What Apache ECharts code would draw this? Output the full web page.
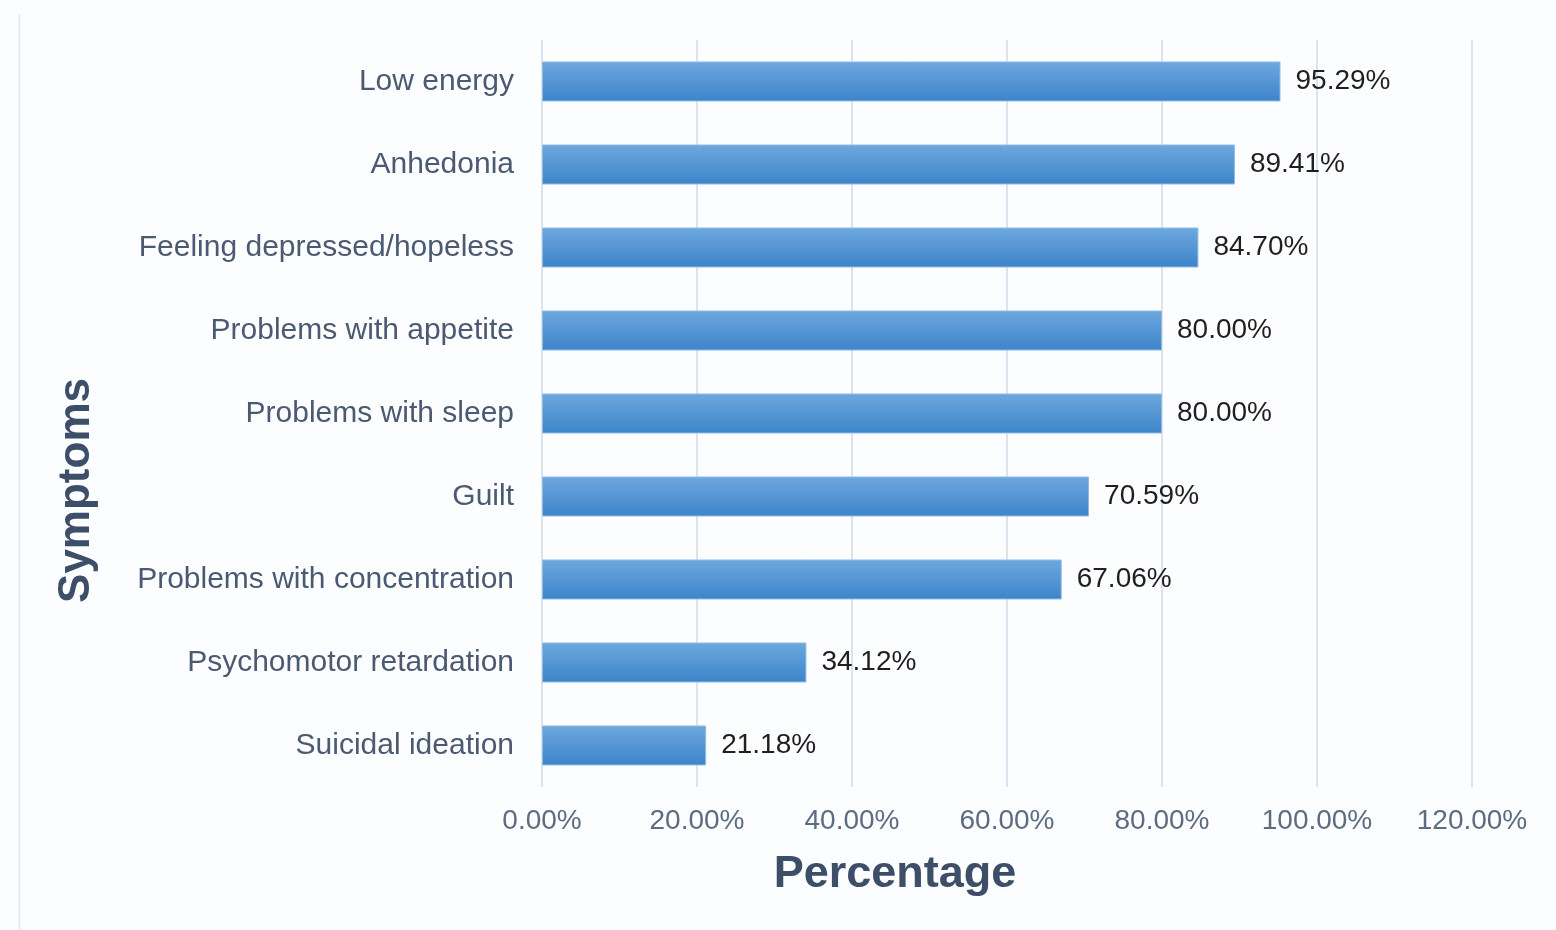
<!DOCTYPE html>
<html>
<head>
<meta charset="utf-8">
<title>Symptoms</title>
<script src="https://cdn.jsdelivr.net/npm/echarts@6/dist/echarts.min.js"></script>
<style>
  html, body { margin: 0; padding: 0; background: #fcfdfe; }
  #chart { width: 1556px; height: 930px; }
</style>
</head>
<body>
<div id="chart"></div>
<script>
// data (top to bottom)
const symptoms = [
  'Low energy',
  'Anhedonia',
  'Feeling depressed/hopeless',
  'Problems with appetite',
  'Problems with sleep',
  'Guilt',
  'Problems with concentration',
  'Psychomotor retardation',
  'Suicidal ideation'
]
const percentages = [95.29, 89.41, 84.70, 80.00, 80.00, 70.59, 67.06, 34.12, 21.18]
const xTicks = [0, 20, 40, 60, 80, 100, 120]

const font = '"Liberation Sans", Arial, sans-serif'
const chart = echarts.init(document.getElementById('chart'))

const option = {
  backgroundColor: '#fcfdfe',
  animation: false,
  graphic: [
    {
      type: 'line',
      shape: { x1: 19.5, y1: 14, x2: 19.5, y2: 930 },
      style: { stroke: '#e3e8ef', lineWidth: 1.5 }
    }
  ],
  grid: { left: 542, right: 84, top: 40, bottom: 143 },
  xAxis: {
    type: 'value',
    min: xTicks[0],
    max: xTicks[xTicks.length - 1],
    interval: 20,
    name: 'Percentage',
    nameLocation: 'middle',
    nameGap: 65,
    // title sits left of the plot centre in the original
    nameTextStyle: {
      fontFamily: font, fontSize: 45, fontWeight: 'bold', color: '#3d4f68',
      padding: [0, 224, 0, 0]
    },
    axisLine: { show: false },
    axisTick: { show: false },
    axisLabel: {
      margin: 20,
      fontFamily: font,
      fontSize: 28,
      color: '#5d6c82',
      formatter: v => v.toFixed(2) + '%'
    },
    splitLine: { show: true, lineStyle: { color: '#dde3ec', width: 2 } }
  },
  yAxis: {
    type: 'category',
    inverse: true,
    data: symptoms,
    name: 'Symptoms',
    nameLocation: 'middle',
    nameGap: 443,
    nameRotate: 90,
    nameTextStyle: {
      fontFamily: font, fontSize: 44, fontWeight: 'bold', color: '#3d4f68',
      padding: [0, 154, 0, 0]
    },
    axisLine: { show: false },
    axisTick: { show: false },
    axisLabel: { margin: 28, fontFamily: font, fontSize: 30, color: '#4a5a72' }
  },
  series: [
    {
      type: 'bar',
      data: percentages,
      barWidth: 40,
      itemStyle: {
        color: new echarts.graphic.LinearGradient(0, 0, 0, 1, [
          { offset: 0, color: '#6ea8df' },
          { offset: 1, color: '#3c84c9' }
        ]),
        borderColor: '#8fbce6',
        borderWidth: 1
      },
      label: {
        show: true,
        position: 'right',
        distance: 15,
        fontFamily: font,
        fontSize: 28,
        color: '#1f1f1f',
        formatter: p => p.value.toFixed(2) + '%'
      }
    }
  ]
}

chart.setOption(option)
</script>
</body>
</html>
